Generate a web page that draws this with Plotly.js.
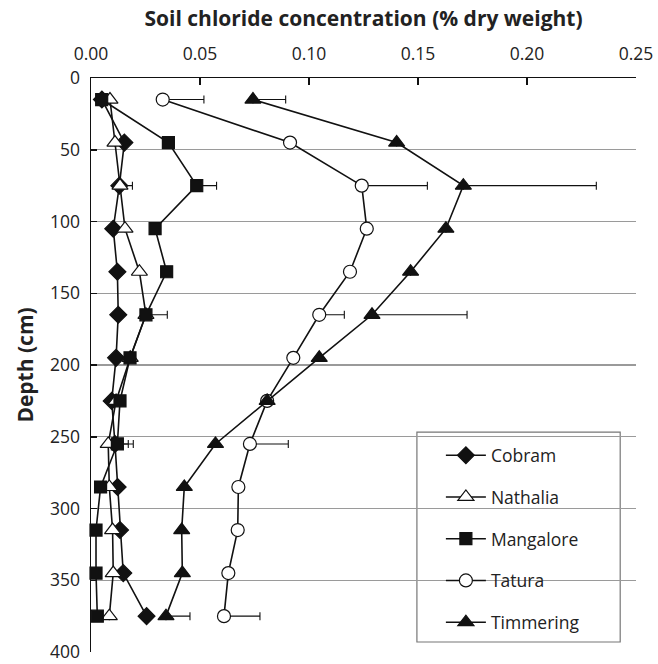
<!DOCTYPE html>
<html>
<head>
<meta charset="utf-8">
<script src="https://cdn.plot.ly/plotly-3.0.1.min.js"></script>
<style>html,body{margin:0;padding:0;background:#fff;}#chart{width:658px;height:664px;}</style>
</head>
<body>
<div id="chart"></div>
<script>
// Depth (cm) of each sample
var depths = [15, 45, 75, 105, 135, 165, 195, 225, 255, 285, 315, 345, 375];

// Soil chloride concentration (% dry weight)
var cobram     = [0.005, 0.0153, 0.013, 0.0102, 0.0121, 0.0125, 0.0115, 0.0095, 0.011, 0.0122, 0.0133, 0.0148, 0.0255];
var nathalia   = [0.0087, 0.011, 0.0133, 0.0156, 0.0222, 0.0252, 0.018, 0.0115, 0.0079, 0.0084, 0.0099, 0.0102, 0.0084];
var mangalore  = [0.0049, 0.0355, 0.0485, 0.0294, 0.0347, 0.0252, 0.0179, 0.0133, 0.0121, 0.0044, 0.0023, 0.0023, 0.0029];
var tatura     = [0.0329, 0.0913, 0.1242, 0.1265, 0.1188, 0.1047, 0.0928, 0.0808, 0.0729, 0.0676, 0.0673, 0.063, 0.061];
var timmering  = [0.0743, 0.1402, 0.1708, 0.1628, 0.1466, 0.1289, 0.1047, 0.0808, 0.0571, 0.0428, 0.0416, 0.0419, 0.0344];

// One-sided error bars (upper error, % dry weight)
var cobramErr    = [null, null, null, null, null, null, null, null, null, null, null, null, null];
var nathaliaErr  = [null, null, 0.0057, null, null, null, null, null, 0.0092, null, null, null, null];
var mangaloreErr = [null, null, 0.0091, null, null, 0.0098, null, null, 0.0073, null, null, null, null];
var taturaErr    = [0.0189, null, 0.0301, null, null, 0.0115, null, null, 0.0176, null, null, null, 0.0165];
var timmeringErr = [0.015, null, 0.061, null, null, 0.0436, null, null, null, null, null, null, 0.011];

var seriesNames = ["Cobram", "Nathalia", "Mangalore", "Tatura", "Timmering"];

function errCfg(arr) {
  return {
    type: "data", symmetric: false,
    array: arr.map(function (v) { return v === null ? 0 : v; }),
    arrayminus: arr.map(function () { return 0; }),
    color: "#111", thickness: 1.1, width: 4
  };
}
function trace(name, xs, errs, symbol, fill, size) {
  var hasErr = errs.some(function (v) { return v !== null; });
  var t = {
    type: "scatter", mode: "lines+markers", name: name, legendgroup: name,
    x: xs, y: depths,
    line: {color: "#111", width: 1.6},
    marker: {symbol: symbol, size: size, color: fill, line: {color: "#111", width: 1.2}},
    cliponaxis: false
  };
  if (hasErr) t.error_x = errCfg(errs);
  return t;
}

var data = [
  trace(seriesNames[0], cobram, cobramErr, "diamond", "#111", 13),
  trace(seriesNames[1], nathalia, nathaliaErr, "triangle-up", "#fff", 14),
  trace(seriesNames[2], mangalore, mangaloreErr, "square", "#111", 12),
  trace(seriesNames[3], tatura, taturaErr, "circle", "#fff", 13),
  trace(seriesNames[4], timmering, timmeringErr, "triangle-up", "#111", 14)
];

var layout = {
  width: 658, height: 664,
  margin: {l: 91, r: 22, t: 78, b: 12},
  paper_bgcolor: "#fff", plot_bgcolor: "#fff",
  font: {family: "Open Sans, Noto Sans, sans-serif", color: "#222", size: 17},
  showlegend: true,
  legend: {
    x: 0.642, y: 0.374, xanchor: "left", yanchor: "top",
    bgcolor: "rgba(0,0,0,0)", borderwidth: 0,
    font: {size: 17.5, color: "#222"},
    traceorder: "grouped", tracegroupgap: 16,
    itemwidth: 40
  },
  shapes: [{
    type: "rect", xref: "paper", yref: "paper", layer: "between",
    x0: 0.598, x1: 0.971, y0: 0.0174, y1: 0.383,
    fillcolor: "#fff", line: {color: "#777", width: 1.2}
  }],
  xaxis: {
    side: "top", range: [0, 0.25], dtick: 0.05, tick0: 0, tickformat: ".2f",
    showgrid: false, zeroline: false, showline: true, linecolor: "#111", linewidth: 1.5,
    ticks: "inside", ticklen: 7, tickcolor: "#111", tickwidth: 1.5,
    ticklabelstandoff: 10,
    tickfont: {size: 17.5, color: "#222"},
    title: {text: "Soil chloride concentration (% dry weight)", font: {size: 21, color: "#222", weight: "bold"}, standoff: 8}
  },
  yaxis: {
    range: [400, 0], dtick: 50, tick0: 0,
    showgrid: true, gridcolor: "#9a9a9a", gridwidth: 1.2,
    zeroline: false, showline: true, linecolor: "#111", linewidth: 1.5,
    ticks: "inside", ticklen: 6, tickcolor: "#111", tickwidth: 1.5,
    ticklabelstandoff: 6,
    tickfont: {size: 17.5, color: "#222"},
    title: {text: "Depth (cm)", font: {size: 21, color: "#222", weight: "bold"}, standoff: 10}
  }
};

Plotly.newPlot("chart", data, layout, {displayModeBar: false, staticPlot: true});
</script>
</body>
</html>
